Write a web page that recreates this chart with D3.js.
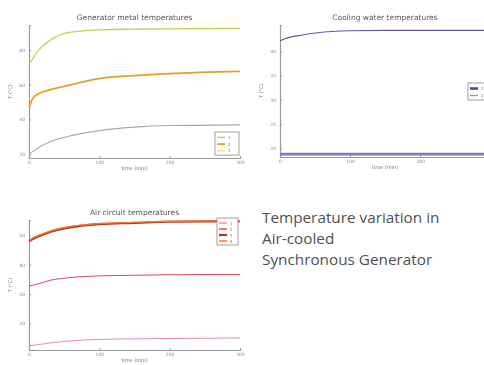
<!DOCTYPE html>
<html>
<head>
<meta charset="utf-8">
<script src="https://cdn.jsdelivr.net/npm/d3@7"></script>
<style>
  html, body { margin: 0; padding: 0; background: #fff; }
  svg { display: block; }
</style>
</head>
<body>
<svg id="fig" width="484" height="365"></svg>
<script>
// Time samples (min) shared by every series
const times = [0, 6, 15, 30, 54, 100, 150, 200, 300];
const xTicks = [0, 100, 200, 300];
const xTicksWater = [0, 100, 200];

// Generator metal temperatures (°C)
const metalLabels = ["1", "2", "3"];
const metalTop = [71.6, 75.5, 80.5, 85.6, 89.9, 91.6, 92.0, 92.2, 92.5];
const metalMid = [46.5, 52.5, 55.0, 57.0, 59.4, 63.5, 65.2, 66.4, 67.7];
const metalLow = [20.0, 21.5, 24.0, 27.1, 30.0, 33.5, 35.5, 36.4, 36.8];
const metalTicks = [20, 40, 60, 80];

// Cooling water temperatures (°C)
const waterLabels = ["1", "2"];
const waterOut = [42.1, 42.5, 42.9, 43.3, 43.8, 44.2, 44.3, 44.3, 44.3];
const waterIn = [18.8, 18.8, 18.8, 18.8, 18.8, 18.8, 18.8, 18.8, 18.8];
const waterTicks = [20, 25, 30, 35, 40];

// Air circuit temperatures (°C)
const airLabels = ["1", "2", "3", "4"];
const airCold = [12.4, 12.6, 12.9, 13.4, 14.0, 14.6, 14.8, 14.9, 15.1];
const airMid = [32.7, 33.1, 33.6, 34.7, 35.5, 36.2, 36.4, 36.6, 36.7];
const airHotA = [48.0, 48.8, 49.8, 51.1, 52.5, 53.8, 54.2, 54.6, 54.8];
const airHotB = [48.3, 49.1, 50.1, 51.4, 52.8, 54.0, 54.4, 54.8, 55.0];
const airTicks = [20, 30, 40, 50];

const svg = d3.select("#fig");
const defs = svg.append("defs");
defs.append("filter").attr("id", "soft")
  .append("feGaussianBlur").attr("stdDeviation", 0.55);

const FONT = "'DejaVu Sans', sans-serif";

function panel(cfg) {
  const g = svg.append("g").attr("filter", "url(#soft)");
  const x = d3.scaleLinear().domain([0, 300]).range([cfg.x0, cfg.x1]);
  const y = d3.scaleLinear().domain(cfg.yDomain).range([cfg.y1, cfg.y0]);

  const xa = g.append("g").attr("transform", `translate(0,${cfg.y1})`)
    .call(d3.axisBottom(x).tickValues(cfg.xTicks).tickSize(-2).tickPadding(3));
  const ya = g.append("g").attr("transform", `translate(${cfg.x0},0)`)
    .call(d3.axisLeft(y).tickValues(cfg.ticks).tickSize(-2).tickPadding(4));
  [xa, ya].forEach(a => {
    a.select(".domain").attr("stroke", "#9a9a9a").attr("stroke-width", 1.2);
    a.selectAll(".tick line").attr("stroke", "#9a9a9a");
    a.selectAll(".tick text").attr("fill", "#888").style("font", `4.5px ${FONT}`);
  });

  const line = d3.line().x((d, i) => x(times[i])).y(d => y(d)).curve(d3.curveMonotoneX);
  cfg.series.forEach(s => {
    g.append("path").datum(s.values).attr("d", line)
      .attr("fill", "none").attr("stroke", s.color).attr("stroke-width", s.width);
  });

  g.append("text").attr("x", (cfg.x0 + cfg.x1) / 2).attr("y", cfg.y0 - 5)
    .attr("text-anchor", "middle").attr("fill", "#555")
    .style("font", `7.5px ${FONT}`).text(cfg.title);
  g.append("text").attr("x", (x(0) + x(300)) / 2).attr("y", cfg.y1 + 12)
    .attr("text-anchor", "middle").attr("fill", "#777")
    .style("font", `5px ${FONT}`).text("time (min)");
  g.append("text")
    .attr("transform", `translate(${cfg.x0 - 17},${(cfg.y0 + cfg.y1) / 2}) rotate(-90)`)
    .attr("text-anchor", "middle").attr("fill", "#777")
    .style("font", `5px ${FONT}`).text("T (°C)");

  // legend
  const lg = g.append("g").attr("transform", `translate(${cfg.legend[0]},${cfg.legend[1]})`);
  const rowH = cfg.rowH;
  lg.append("rect").attr("width", cfg.legendW).attr("height", cfg.series.length * rowH + 3)
    .attr("fill", "#fff").attr("stroke", "#888").attr("stroke-width", 0.8);
  cfg.series.forEach((s, i) => {
    const yy = 2 + i * rowH + rowH / 2;
    lg.append("line").attr("x1", 2).attr("x2", 10).attr("y1", yy).attr("y2", yy)
      .attr("stroke", s.legendColor || s.color).attr("stroke-width", Math.max(1.5, s.width));
    lg.append("text").attr("x", 13).attr("y", yy + 1.5).attr("fill", "#777")
      .style("font", `4px ${FONT}`).text(s.label);
  });
}

panel({
  x0: 29, x1: 240, y0: 25, y1: 158, yDomain: [17.7, 94.4], ticks: metalTicks, xTicks: xTicks,
  title: "Generator metal temperatures", legend: [215, 132], legendW: 24, rowH: 6.7,
  series: [
    { values: metalTop, color: "#c9cc5a", width: 1.3, label: metalLabels[0] },
    { values: metalMid, color: "#e6a02a", width: 1.8, label: metalLabels[1] },
    { values: metalLow, color: "#a8a8a8", width: 1.1, label: metalLabels[2], legendColor: "#e8e48a" }
  ]
});

panel({
  x0: 280, x1: 490, y0: 25, y1: 157, yDomain: [18.2, 45.4], ticks: waterTicks, xTicks: xTicksWater,
  title: "Cooling water temperatures", legend: [468, 83], legendW: 24, rowH: 7,
  series: [
    { values: waterIn, color: "#7b7bc4", width: 2.6, label: waterLabels[0], legendColor: "#4a4a8a" },
    { values: waterOut, color: "#5a5aa8", width: 1.1, label: waterLabels[1], legendColor: "#9a9ad8" }
  ]
});

panel({
  x0: 29, x1: 240, y0: 220, y1: 350, yDomain: [11, 55.2], ticks: airTicks, xTicks: xTicks,
  title: "Air circuit temperatures", legend: [217, 218], legendW: 21, rowH: 6,
  series: [
    { values: airCold, color: "#f08aa0", width: 1.0, label: airLabels[0] },
    { values: airMid, color: "#e0455a", width: 1.0, label: airLabels[1] },
    { values: airHotA, color: "#b8321e", width: 2.2, label: airLabels[2] },
    { values: airHotB, color: "#f07a30", width: 1.4, label: airLabels[3] }
  ]
});

// caption
const cap = svg.append("text").attr("x", 262).attr("fill", "#505050")
  .style("font", "400 15.3px 'Open Sans', sans-serif");
["Temperature variation in", "Air-cooled", "Synchronous Generator"].forEach((t, i) => {
  cap.append("tspan").attr("x", 262).attr("y", 223 + i * 21).text(t);
});
</script>
</body>
</html>
